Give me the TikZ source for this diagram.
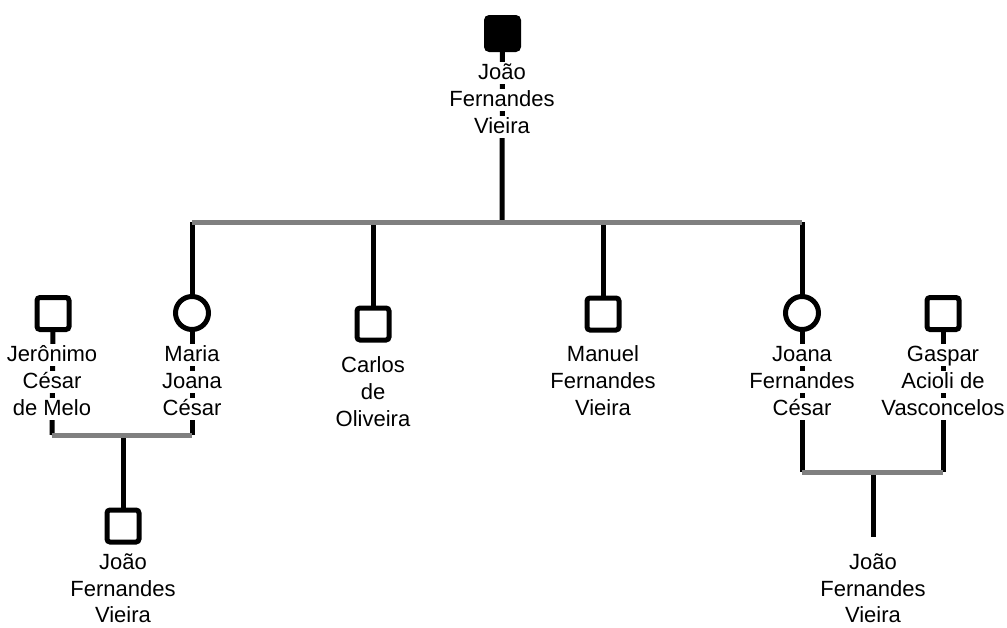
\documentclass[tikz,border=0pt]{standalone}
\usepackage{fontspec}
\setmainfont{Liberation Sans}
\usetikzlibrary{backgrounds}
\definecolor{bargray}{RGB}{128,128,128}
\tikzset{
  person/.style={draw=black, line width=5pt, fill=white, inner sep=0pt, outer sep=0pt},
  male/.style={person, rectangle, rounded corners=3pt, minimum size=32pt},
  female/.style={person, circle, minimum size=33pt},
  txt/.style={font=\fontsize{22}{26}\selectfont, fill=white, inner sep=0pt, text height=17.5pt, text depth=5pt},
  txtb/.style={font=\fontsize{22}{26}\selectfont, inner sep=0pt, anchor=base},
  descent/.style={line width=5pt, black},
  marbar/.style={line width=5pt, bargray}
}
\begin{document}
\begin{tikzpicture}[x=1pt,y=-1pt]
\useasboundingbox (0,0) rectangle (1007,627);
% persons
\node[male, fill=black] (jfv) at (502.5,33.5) {};
\node[txt] (jfv1) at (502,73) {João};
\node[txt] (jfv2) at (502,100) {Fernandes};
\node[txt] (jfv3) at (502,127) {Vieira};

\node[male] (jer) at (53,313.5) {};
\node[txt] (jer1) at (52,355) {Jerônimo};
\node[txt] (jer2) at (52,382) {César};
\node[txt] (jer3) at (52,409) {de Melo};

\node[female] (mar) at (192,313) {};
\node[txt] (mar1) at (192,355) {Maria};
\node[txt] (mar2) at (192,382) {Joana};
\node[txt] (mar3) at (192,409) {César};

\node[male] (car) at (373,324) {};
\node[txt] (car1) at (373,366) {Carlos};
\node[txt] (car2) at (373,393) {de};
\node[txt] (car3) at (373,420) {Oliveira};

\node[male] (man) at (603,314) {};
\node[txt] (man1) at (603,355) {Manuel};
\node[txt] (man2) at (603,382) {Fernandes};
\node[txt] (man3) at (603,409) {Vieira};

\node[female] (joa) at (802,313) {};
\node[txt] (joa1) at (802,355) {Joana};
\node[txt] (joa2) at (802,382) {Fernandes};
\node[txt] (joa3) at (802,409) {César};

\node[male] (gas) at (943,313.5) {};
\node[txt] (gas1) at (943,355) {Gaspar};
\node[txt] (gas2) at (943,382) {Acioli de};
\node[txt] (gas3) at (943,409) {Vasconcelos};

\node[male] (jl) at (123,526) {};
\node[txtb] (jl1) at (123,569) {João};
\node[txtb] (jl2) at (123,596) {Fernandes};
\node[txtb] (jl3) at (123,622) {Vieira};

\coordinate (jrend) at (873,537);
\node[txtb] (jr1) at (873,569) {João};
\node[txtb] (jr2) at (873,596) {Fernandes};
\node[txtb] (jr3) at (873,622) {Vieira};

% junction points
\coordinate (sib) at (502,222);
\coordinate (smar) at (192,222);
\coordinate (scar) at (373,222);
\coordinate (sman) at (603,222);
\coordinate (sjoa) at (802,222);
\coordinate (ljer) at (52,435);
\coordinate (lmar) at (192,435);
\coordinate (lmid) at (123,435);
\coordinate (rjoa) at (802,472);
\coordinate (rgas) at (943,472);
\coordinate (rmid) at (873,472);

\begin{scope}[on background layer]
\draw[descent] (jfv.south) -- (sib);
\draw[descent] (smar) -- (mar.north);
\draw[descent] (scar) -- (car.north);
\draw[descent] (sman) -- (man.north);
\draw[descent] (sjoa) -- (joa.north);
\draw[descent] (jer.south) -- (ljer);
\draw[descent] (mar.south) -- (lmar);
\draw[descent] (lmid) -- (jl.north);
\draw[descent] (joa.south) -- (rjoa);
\draw[descent] (gas.south) -- (rgas);
\draw[descent] (rmid) -- (jrend);
\draw[marbar] (smar) -- (sjoa);
\draw[marbar] (ljer) -- (lmar);
\draw[marbar] (rjoa) -- (rgas);
\end{scope}
\end{tikzpicture}
\end{document}
